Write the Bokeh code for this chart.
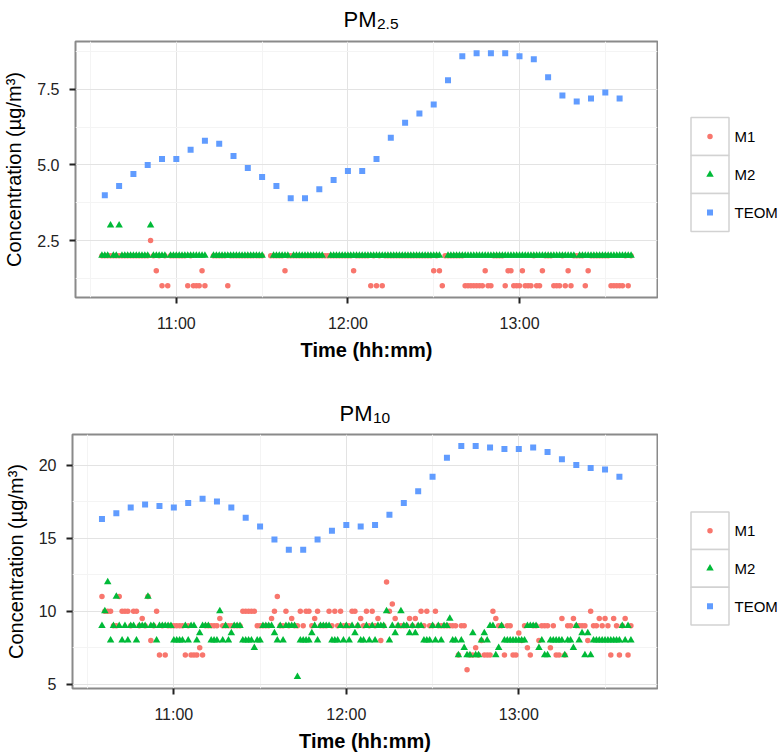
import numpy as np
from bokeh.plotting import figure
from bokeh.layouts import row, column
from bokeh.models import Range1d, FixedTicker, PrintfTickFormatter
from bokeh.core.properties import value
from bokeh.embed import file_html
from bokeh.resources import INLINE

FONT_NAME = "Liberation Sans"
FONT = value(FONT_NAME)

# ---------------- data ----------------
# minutes after 10:00 of the 1-minute M1/M2 records (10:34 ... 13:39)
minutes = list(range(34, 220))
# TEOM 5-minute records
teom_times = ["10:35", "10:40", "10:45", "10:50", "10:55", "11:00", "11:05", "11:10", "11:15",
              "11:20", "11:25", "11:30", "11:35", "11:40", "11:45", "11:50", "11:55", "12:00",
              "12:05", "12:10", "12:15", "12:20", "12:25", "12:30", "12:35", "12:40", "12:45",
              "12:50", "12:55", "13:00", "13:05", "13:10", "13:15", "13:20", "13:25", "13:30", "13:35"]

pm25_teom = [4.0, 4.3, 4.7, 5.0, 5.2, 5.2, 5.5, 5.8, 5.7, 5.3, 4.9, 4.6, 4.3, 3.9, 3.9, 4.2, 4.5,
             4.8, 4.8, 5.2, 5.9, 6.4, 6.7, 7.0, 7.8, 8.6, 8.7, 8.7, 8.7, 8.6, 8.5, 7.9, 7.3, 7.1,
             7.2, 7.4, 7.2]
pm10_teom = [16.3, 16.7, 17.1, 17.3, 17.2, 17.1, 17.4, 17.7, 17.5, 17.1, 16.4, 15.8, 14.9, 14.2,
             14.2, 14.9, 15.5, 15.9, 15.8, 15.9, 16.6, 17.4, 18.2, 19.2, 20.5, 21.3, 21.3, 21.2,
             21.1, 21.1, 21.2, 20.9, 20.4, 20.0, 19.8, 19.7, 19.2]

pm25_m1 = [2, 2, 2, 2, 2, 2,
           2, 2, 2, 2, 2, 2, 2, 2, 2, 2,
           2, 2.5, 2, 1.5, 2, 1, 2, 1, 2, 2,
           2, 2, 2, 2, 1, 2, 1, 1, 1, 1.5,
           1, None, None, 2, 2, 2, 2, 2, 1, 2,
           2, 2, 2, 2, 2, 2, 2, 2, 2, 2,
           2, None, None, 2, 2, 2, 2, 2, 1.5, 2,
           2, 2, 2, 2, 2, 2, 2, 2, 2, 2,
           2, 2, 2, 2, 2, 2, 2, 2, 2, 2,
           2, 2, 1.5, 2, 2, 2, 2, 2, 1, 2,
           1, 2, 1, 2, 2, 2, 2, 2, 2, 2,
           2, 2, 2, 2, 2, 2, 2, 2, 2, 2,
           1.5, 2, 1.5, 1, 2, 2, 2, 2, 2, 2,
           2, 1, 1, 1, 1, 1, 1, 1, 1.5, 1,
           1, 2, 2, 2, 2, 1, 1.5, 1.5, 1, 1,
           1, 1.5, 1, 1, 1, 2, 1, 1, 1.5, 2,
           2, 2, 1, 1, 1, 2, 1, 1.5, 1, 2,
           2, 2, 2, 1, 1.5, 2, 2, 2, 2, 2,
           2, 2, 1, 1, 1, 1, 1, 2, 1, 2]
pm25_m2 = [2, 2, 2, 3, 2, 2,
           3, 2, 2, 2, 2, 2, 2, 2, 2, 2,
           2, 3, 2, 2, 2, 2, 2, None, 2, 2,
           2, 2, 2, 2, 2, 2, 2, 2, 2, 2,
           2, None, None, 2, 2, 2, 2, 2, 2, 2,
           2, 2, 2, 2, 2, 2, 2, 2, 2, 2,
           2, None, None, None, 2, 2, 2, 2, 2, 2,
           None, 2, 2, 2, 2, 2, 2, 2, 2, 2,
           2, 2, None, None, 2, 2, 2, 2, 2, 2,
           2, 2, 2, 2, 2, 2, 2, 2, 2, 2,
           2, 2, 2, 2, 2, 2, 2, 2, 2, 2,
           2, 2, 2, 2, 2, 2, 2, 2, 2, 2,
           2, 2, 2, None, None, 2, 2, 2, 2, 2,
           2, 2, 2, 2, 2, 2, 2, 2, 2, 2,
           2, 2, 2, 2, 2, 2, 2, 2, 2, 2,
           2, 2, 2, 2, 2, 2, 2, 2, 2, 2,
           2, 2, 2, 2, 2, 2, 2, 2, 2, 2,
           None, 2, 2, 2, 2, 2, 2, 2, 2, 2,
           2, 2, 2, 2, 2, 2, 2, 2, 2, 2]

pm10_m1 = [None, 11, 10, 10, 10, 9,
           9, 11, 10, 10, 10, 9, 10, 10, 9, 9.5,
           9, 11, 8, 9, 10, 7, 9, 7, 9, 9,
           9, 9, 9, 9, 7, 9, 7, 7, 7, 7.5,
           7, 9, 9, 9, 9, 9, 9.5, 9, 9, 9,
           9, 9, 9, 9, 10, 10, 10, 10, 10, 9,
           9, 9, 9, 9, 9.5, 10, 11, 9, 9, 10,
           9, 9.5, 9, 9, 10, 9, 10, 10, 9, 9.5,
           10, 9, 9, 9, 10, 9, 10, 9, 10, 9,
           9, 9, 10, 10, 9, 9.5, 9, 10, 9, 10,
           9, 9.5, 8, 9, 12, 10, 10.5, 9.5, 9, 9,
           9, 9, 9.5, 9, 9.5, 9, 10, 9, 10, 9,
           9, 10, 9, 9, 9, 9, 9, 9, 9, 7,
           9, 9, 6, 7, 7, 7.5, 7, 8, 7, 7,
           7, 10, 9.5, 9, 9, 7, 9, 9, 7, 7,
           8.5, 8, 9, 7.5, 7, 9, 9, 8, 9, 9,
           9, 7.5, 9, 7, 7, 9.5, 7, 9, 9, 9.5,
           9, 9, 9, 9, 8, 10, 9, 9, 9.5, 9,
           9.5, 9, 7, 9.5, 9, 7, 9, 9.5, 7, 9]
pm10_m2 = [None, 9, 10, 12, 8, 9,
           11, 9, 8, 9, 8, 9, 9, 8, 9, 9,
           9, 11, 9, 9, 8, 9, 9, 9, 9, 9,
           8, 8, 8, 8, 9, 8, 9, 9, 8, 8.5,
           9, 9, 9, 8, 8, 8, 10, 8, 9, 8,
           8.5, 9, 9, 9, 8, 8, 8, 8, 7.5, 8,
           8, 9, 9, 9, 9, 8.5, 8, 9, 8, 9,
           9, 9, 9, 5.5, 8, 8, 8, 8, 8.5, 9,
           8, 9, 9, 9, 9, 8, 8, 8, 9, 8,
           9, 8, 9, 8.5, 9, 8, 8, 9, 8, 9,
           8, 9, 9, 9, 10, 8, 9, 8.5, 9, 10,
           9, 9, 8.5, 9, 8.5, 9, 9, 8, 8, 8,
           9, 8, 9, 8, 9, 9, 9.5, 8, 8, 7,
           8, 7.5, 7, 7, 8.5, 7, 7, 8, 8.5, 8,
           9, 9, 7, 7.5, 9, 8, 8, 8, 8, 8,
           8, 8, 8, 9, 9, 9, 9, 7.5, 8, 7,
           7, 8, 8, 8, 8, 8, 7, 8, 8, 7.5,
           9, 8, 8.5, 7, 8.5, 7, 8, 8, 8, 8,
           8, 8, 8, 8, 8, 8, 9, 8, 9, 8]

x_ticks = [60, 120, 180]
x_tick_labels = ["11:00", "12:00", "13:00"]
x_minor = [30, 90, 150, 210]
pm25_yticks = [2.5, 5.0, 7.5]
pm25_yminor = [1.25, 3.75, 6.25, 8.75]
pm10_yticks = [5, 10, 15, 20]
pm10_yminor = [7.5, 12.5, 17.5]

title_main = "PM"
title_subs = ["2.5", "10"]
series_names = ["M1", "M2", "TEOM"]
series_colors = ["#F8766D", "#00BA38", "#619CFF"]
series_markers = ["circle", "triangle", "square"]
series_sizes = [5.5, 7.5, 6]

TOTAL_W = 778
LEG_W = 120
FRAME_H = 256
BORDER_TOP = 2


def tmin(s):
    h, m = s.split(":")
    return (int(h) - 10) * 60 + int(m)


teom_minutes = [tmin(s) for s in teom_times]


def expand(lo, hi, f=0.05):
    d = (hi - lo) * f
    return lo - d, hi + d


def blank(width, height, bt=0, bb=0, yspan=None):
    ys = yspan if yspan is not None else height
    f = figure(width=width, height=height, output_backend="svg", toolbar_location=None,
               x_range=Range1d(0, width), y_range=Range1d(ys, 0),
               x_axis_type=None, y_axis_type=None, title=None,
               min_border_left=0, min_border_right=0, min_border_top=bt, min_border_bottom=bb)
    f.outline_line_color = None
    f.grid.visible = False
    f.background_fill_color = "white"
    f.border_fill_color = "white"
    return f


def make_title(height, sub, xr, base_main, base_sub):
    t = blank(TOTAL_W, height)
    t.text(x=[xr], y=[base_main], text=[title_main], text_align="right",
           text_baseline="alphabetic", text_font=FONT, text_font_size="22px", text_color="black")
    t.text(x=[xr + 0.5], y=[base_sub], text=[sub], text_align="left",
           text_baseline="alphabetic", text_font=FONT, text_font_size="15.5px", text_color="black")
    return t


def make_panel(m1, m2, teom, yticks, yminor, yfmt, bl, bb):
    m1a = np.array(m1, dtype=float)
    m2a = np.array(m2, dtype=float)
    ta = np.array(teom, dtype=float)
    allv = np.concatenate([m1a, m2a, ta])
    ylo, yhi = expand(np.nanmin(allv), np.nanmax(allv))
    xlo, xhi = expand(min(minutes), max(minutes))
    p = figure(width=TOTAL_W - LEG_W, height=BORDER_TOP + FRAME_H + bb, output_backend="svg",
               toolbar_location=None, x_range=Range1d(xlo, xhi), y_range=Range1d(ylo, yhi),
               title=None, min_border_left=bl, min_border_right=1, min_border_top=BORDER_TOP,
               min_border_bottom=bb)
    p.background_fill_color = "white"
    p.border_fill_color = "white"
    p.outline_line_color = "#8a8a8a"
    p.outline_line_width = 2

    p.xaxis.ticker = FixedTicker(ticks=x_ticks, minor_ticks=x_minor)
    p.xaxis.major_label_overrides = {t: l for t, l in zip(x_ticks, x_tick_labels)}
    p.yaxis.ticker = FixedTicker(ticks=yticks, minor_ticks=yminor)
    p.yaxis.formatter = PrintfTickFormatter(format=yfmt)

    for ax in (p.xaxis[0], p.yaxis[0]):
        ax.axis_line_color = None
        ax.major_tick_line_color = "#222222"
        ax.major_tick_line_width = 2
        ax.major_tick_out = 6
        ax.major_tick_in = 0
        ax.minor_tick_line_color = None
        ax.major_label_text_font = FONT_NAME
        ax.major_label_text_font_size = "16px"
        ax.major_label_text_color = "#222222"
        ax.axis_label_text_font = FONT_NAME
        ax.axis_label_text_font_size = "20px"
        ax.axis_label_text_color = "black"
    p.xaxis.axis_label = "Time (hh:mm)"
    p.xaxis.axis_label_text_font_style = "bold"
    p.yaxis.axis_label = "Concentration (µg/m³)"
    p.yaxis.axis_label_text_font_style = "normal"
    p.xaxis.major_label_standoff = 11
    p.xaxis.axis_label_standoff = 4
    p.yaxis.major_label_standoff = 10
    p.yaxis.axis_label_standoff = 9

    for g in (p.xgrid[0], p.ygrid[0]):
        g.grid_line_color = "#e3e3e3"
        g.grid_line_width = 1
        g.minor_grid_line_color = "#f4f4f4"
        g.minor_grid_line_width = 1

    for vals, xs, col, mk, sz in zip([m1a, m2a, ta], [minutes, minutes, teom_minutes],
                                     series_colors, series_markers, series_sizes):
        p.scatter(x=xs, y=vals, marker=mk, size=sz, fill_color=col, line_color=None)
    return p


def make_legend(bb, cy):
    # same borders as the neighbouring panel, so the frame is shared; y in frame pixels
    lg = blank(LEG_W, BORDER_TOP + FRAME_H + bb, bt=BORDER_TOP, bb=bb, yspan=FRAME_H)
    key = 38
    ys = [cy - key, cy, cy + key]
    lg.rect(x=[51.5] * 3, y=ys, width=key, height=key, fill_color="white",
            line_color="#d2d2d2", line_width=1.5)
    for yv, col, mk, sz in zip(ys, series_colors, series_markers, series_sizes):
        lg.scatter(x=[51.5], y=[yv], marker=mk, size=sz, fill_color=col, line_color=None)
    lg.text(x=[76] * 3, y=ys, text=series_names, text_baseline="middle", text_align="left",
            text_font=FONT, text_font_size="15px", text_color="black")
    return lg


t1 = make_title(39, title_subs[0], 376, 19, 23.5)
p1 = make_panel(pm25_m1, pm25_m2, pm25_teom, pm25_yticks, pm25_yminor, "%.1f", 75, 83)
l1 = make_legend(83, 133)
t2 = make_title(52, title_subs[1], 372, 33, 37)
p2 = make_panel(pm10_m1, pm10_m2, pm10_teom, pm10_yticks, pm10_yminor, "%d", 72, 64)
l2 = make_legend(64, 135)

layout = column(t1, row(p1, l1), t2, row(p2, l2))
open("out.html", "w").write(file_html(layout, INLINE))
